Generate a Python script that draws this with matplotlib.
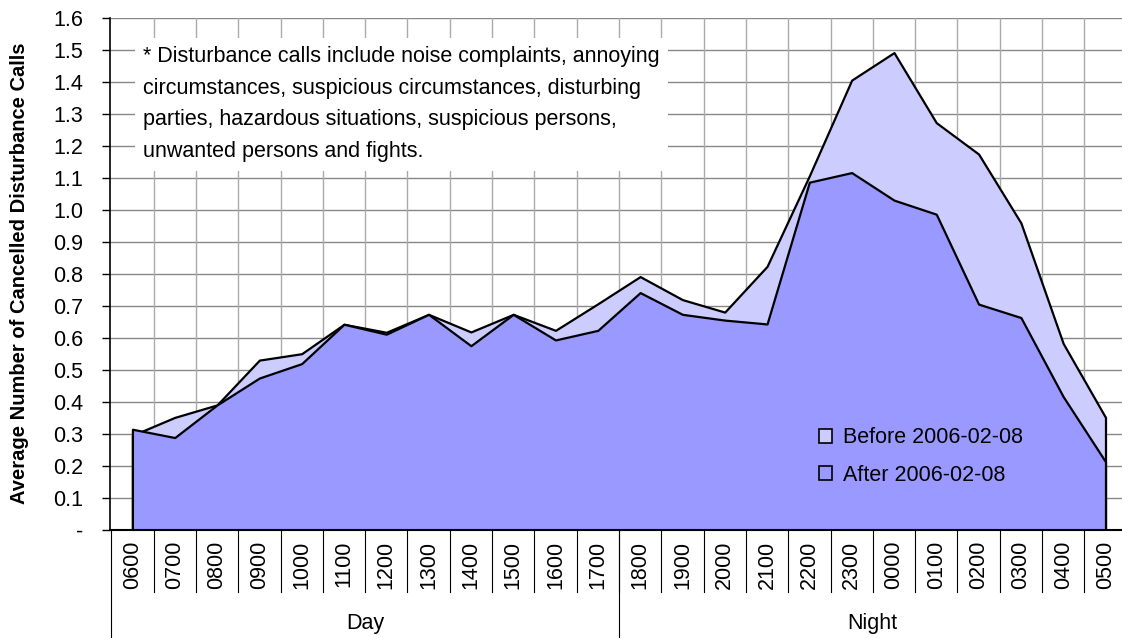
import matplotlib.pyplot as plt
import matplotlib.transforms as mtransforms
from matplotlib.patches import Patch
import numpy as np

plt.rcParams['font.family'] = ['Liberation Sans', 'DejaVu Sans']

# hours of the day, 0600 through 0500
hours = ['0600', '0700', '0800', '0900', '1000', '1100', '1200', '1300', '1400', '1500',
         '1600', '1700', '1800', '1900', '2000', '2100', '2200', '2300', '0000', '0100',
         '0200', '0300', '0400', '0500']

before = [0.295, 0.351, 0.39, 0.530, 0.550, 0.642, 0.617, 0.673, 0.618, 0.673,
          0.623, 0.706, 0.791, 0.719, 0.680, 0.823, 1.106, 1.405, 1.491, 1.272,
          1.174, 0.959, 0.582, 0.351]
after = [0.314, 0.288, 0.39, 0.474, 0.519, 0.642, 0.611, 0.673, 0.575, 0.673,
         0.593, 0.623, 0.741, 0.673, 0.655, 0.643, 1.086, 1.116, 1.030, 0.986,
         0.705, 0.663, 0.416, 0.2125]

groups = ['Day', 'Night']
group_sizes = [12, 12]

note = ("* Disturbance calls include noise complaints, annoying\n"
        "circumstances, suspicious circumstances, disturbing\n"
        "parties, hazardous situations, suspicious persons,\n"
        "unwanted persons and fights.")

fs = 15.5

fig = plt.figure(figsize=(11.22, 6.38), dpi=100)
ax = fig.add_axes([110 / 1122, 1 - 529.7 / 638, 1 - 110 / 1122, 512 / 638])

x = np.arange(len(hours))
ax.fill_between(x, before, color='#CCCCFF', edgecolor='black', lw=1.6, zorder=3)
ax.fill_between(x, after, color='#9999FF', edgecolor='black', lw=1.6, zorder=4)

ax.set_xlim(-0.53, 23.39)
ax.set_ylim(0, 1.6)

# gridlines
yt = np.round(np.arange(0, 1.61, 0.1), 1)
for v in yt[1:]:
    ax.axhline(v, color='#888888', lw=1, zorder=1)
for b in np.arange(0.5, len(hours) - 1, 1):
    ax.axvline(b, color='#aaaaaa', lw=1, zorder=1)

ax.set_yticks(yt)
ax.set_yticklabels(['-'] + [f'{v:.1f}' for v in yt[1:]], fontsize=fs)
ax.tick_params(axis='y', length=6, width=1, pad=13)

ax.set_xticks(x)
ax.set_xticklabels(hours, rotation=90, fontsize=fs)
ax.tick_params(axis='x', length=0, pad=8)
ax.set_xticks(x[::2], minor=True)
ax.tick_params(axis='x', which='minor', length=5, width=1, color='#555555')

for s in ['top', 'right']:
    ax.spines[s].set_visible(False)
ax.spines['left'].set_linewidth(1.2)
ax.spines['bottom'].set_linewidth(1.5)
ax.spines['bottom'].set_zorder(5)

# category separators and group labels below the axis
trans = mtransforms.blended_transform_factory(ax.transData, ax.transAxes)
for b in np.arange(0.5, len(hours) - 1, 1):
    ax.plot([b, b], [0, -0.121], transform=trans, color='black', lw=0.8, clip_on=False)
start = 0
for g, n in zip(groups, group_sizes):
    ax.plot([start - 0.5, start - 0.5], [0, -0.22], transform=trans, color='black',
            lw=0.8, clip_on=False)
    ax.text(start + (n - 1) / 2, -0.1835, g, transform=trans, ha='center', va='center',
            fontsize=fs)
    start += n

ax.set_ylabel('Average Number of Cancelled Disturbance Calls', fontsize=14.5,
              fontweight='bold')
ax.yaxis.set_label_coords(-0.08, 0.5)

fig.text(143 / 1122, 1 - 46 / 638, note, ha='left', va='top', fontsize=fs,
         linespacing=1.67, zorder=10,
         bbox=dict(facecolor='white', edgecolor='none', pad=6))

handles = [Patch(facecolor='#CCCCFF', edgecolor='black', lw=1.2, label='Before 2006-02-08'),
           Patch(facecolor='#9999FF', edgecolor='black', lw=1.2, label='After 2006-02-08')]
leg = ax.legend(handles=handles, frameon=False, fontsize=fs, handlelength=0.6,
                handleheight=0.6, handletextpad=0.5, labelspacing=0.75,
                loc='upper left', bbox_to_anchor=(800 / 1122, 1 - 408 / 638),
                bbox_transform=fig.transFigure)
leg.set_zorder(6)

fig.savefig('out.png', dpi=100)
